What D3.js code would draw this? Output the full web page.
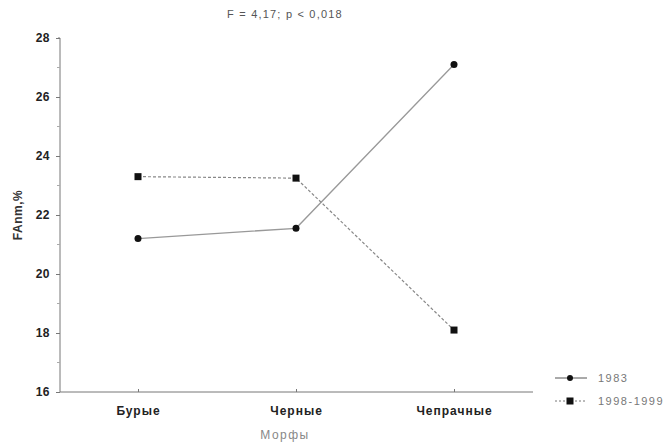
<!DOCTYPE html>
<html><head><meta charset="utf-8">
<script src="https://cdn.jsdelivr.net/npm/d3@7"></script>
<style>body{margin:0;background:#fff}svg{display:block}</style>
</head><body><svg id="c" width="672" height="443"></svg>
<script>
const categories = ["Бурые", "Черные", "Чепрачные"];
const series1983 = [21.2, 21.55, 27.1];
const series1998 = [23.3, 23.25, 18.1];
const seriesNames = ["1983", "1998-1999"];
const yTicks = [16, 18, 20, 22, 24, 26, 28];
const yMinorTicks = [17, 19, 21, 23, 25, 27];

const FONT = "Liberation Sans, Arial, sans-serif";
const svg = d3.select("#c");
const x = d3.scalePoint().domain(categories).range([59, 533]).padding(0.5);
const y = d3.scaleLinear().domain([16, 28]).range([392, 38]);
const axisColor = "#777";

// y axis
const ya = svg.append("g").attr("transform", "translate(60,0)")
  .call(d3.axisLeft(y).tickValues(yTicks).tickFormat(d3.format("d")).tickSize(4).tickPadding(6));
ya.select(".domain").attr("stroke", axisColor).attr("d", "M-2,38H0V392");
ya.selectAll(".tick line").attr("stroke", axisColor);
ya.selectAll(".tick text").attr("font-family", FONT)
  .attr("font-size", 12).attr("font-weight", "bold").attr("fill", "#222").attr("letter-spacing", 0.5);
svg.append("g").selectAll("line").data(yMinorTicks).join("line")
  .attr("x1", 57).attr("x2", 60).attr("y1", d => y(d)).attr("y2", d => y(d))
  .attr("stroke", "#aaa");

// x axis
const xa = svg.append("g").attr("transform", "translate(0,392)")
  .call(d3.axisBottom(x).tickSize(3).tickPadding(11));
xa.select(".domain").attr("stroke", axisColor).attr("d", "M60,0H533");
xa.selectAll(".tick line").attr("stroke", axisColor).attr("y1", -3).attr("y2", 0);
xa.selectAll(".tick text").attr("font-family", FONT)
  .attr("font-size", 12).attr("font-weight", "bold").attr("fill", "#222").attr("letter-spacing", 1);

// titles
svg.append("text").attr("x", 285).attr("y", 18).attr("text-anchor", "middle")
  .attr("font-family", FONT).attr("font-size", 11).attr("fill", "#555").attr("letter-spacing", 1.2)
  .text("F = 4,17; p < 0,018");
svg.append("text").attr("x", 285).attr("y", 439).attr("text-anchor", "middle")
  .attr("font-family", FONT).attr("font-size", 12).attr("fill", "#888").attr("letter-spacing", 1.5)
  .text("Морфы");
svg.append("text").attr("transform", "translate(22,215) rotate(-90)").attr("text-anchor", "middle")
  .attr("font-family", FONT).attr("font-size", 12).attr("font-weight", "bold").attr("fill", "#333").attr("letter-spacing", 0.5)
  .text("FAnm,%");

const line = d3.line().x((d, i) => x(categories[i])).y(d => y(d));
svg.append("path").attr("d", line(series1983)).attr("fill", "none").attr("stroke", "#999").attr("stroke-width", 1.3);
svg.append("path").attr("d", line(series1998)).attr("fill", "none").attr("stroke", "#888").attr("stroke-width", 1.2).attr("stroke-dasharray", "3,2");

svg.append("g").selectAll("circle").data(series1983).join("circle")
  .attr("cx", (d, i) => x(categories[i])).attr("cy", d => y(d)).attr("r", 3.5).attr("fill", "#111");
svg.append("g").selectAll("rect").data(series1998).join("rect")
  .attr("x", (d, i) => x(categories[i]) - 3.5).attr("y", d => y(d) - 3.5)
  .attr("width", 7).attr("height", 7).attr("fill", "#111");

// legend
const lg = svg.append("g").attr("font-family", FONT).attr("font-size", 11).attr("fill", "#777").attr("letter-spacing", 1.5);
lg.append("line").attr("x1", 555).attr("x2", 587).attr("y1", 378).attr("y2", 378).attr("stroke", "#555");
lg.append("circle").attr("cx", 570).attr("cy", 378).attr("r", 3).attr("fill", "#111");
lg.append("text").attr("x", 598).attr("y", 382).text(seriesNames[0]);
lg.append("line").attr("x1", 555).attr("x2", 587).attr("y1", 401).attr("y2", 401).attr("stroke", "#777").attr("stroke-dasharray", "2,2");
lg.append("rect").attr("x", 566.5).attr("y", 397.5).attr("width", 7).attr("height", 7).attr("fill", "#111");
lg.append("text").attr("x", 598).attr("y", 405).text(seriesNames[1]);
</script></body></html>
